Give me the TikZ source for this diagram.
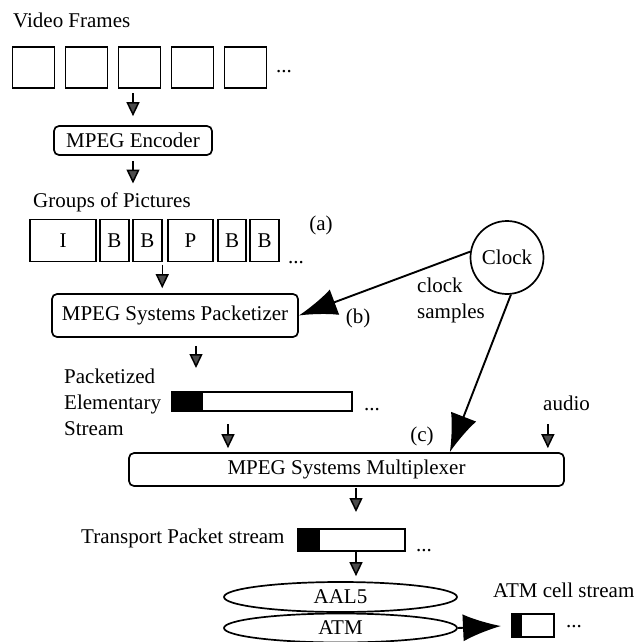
\documentclass[tikz,border=0pt]{standalone}
\usepackage{fontspec}
\setmainfont{Liberation Serif}
\usetikzlibrary{arrows.meta}
\usetikzlibrary{positioning}
\usetikzlibrary{shapes.geometric}

\begin{document}
\begin{tikzpicture}[x=1pt,y=-1pt,font=\fontsize{21}{26}\selectfont]
  \tikzset{framebox/.style={draw,line width=1.7pt,minimum width=#1,inner sep=0pt,outer sep=0pt},
           procbox/.style={draw,line width=1.7pt,rounded corners=5pt,minimum width=#1,inner sep=0pt},
           streambar/.style={draw,line width=1.7pt,minimum width=#1,inner sep=0pt,outer sep=0pt},
           layerbox/.style={draw,ellipse,line width=1.7pt,minimum width=233pt,minimum height=30pt,inner sep=0pt},
           plain/.style={inner sep=0pt},
           feeds/.style={-{Triangle[length=14pt,width=13pt,fill=gray!60!black]},line width=1.5pt},
           clocked/.style={-{Latex[length=38pt,width=27pt]},line width=1.9pt}}
  \useasboundingbox (0,0) rectangle (639,642);

  \node[plain,anchor=base west] (vidlbl) at (13,28) {Video Frames};
  \foreach \i in {1,...,5}
    \node[framebox=42pt,minimum height=41pt] (frame\i) at ({33.5+53*(\i-1)},67.5) {};
  \node[plain,anchor=base west] (framedots) at (276,72) {...};

  \node[procbox=158pt,minimum height=29pt] (encoder) at (133,140.5) {MPEG Encoder};

  \node[plain,anchor=base west] (goplbl) at (33,207) {Groups of Pictures};
  \node[framebox=66.5pt,minimum height=42pt] (gopI) at (63,240.5) {I};
  \node[framebox=29.5pt,minimum height=42pt,right=3.5pt of gopI] (gopB1) {B};
  \node[framebox=29.5pt,minimum height=42pt,right=3.5pt of gopB1] (gopB2) {B};
  \node[framebox=45.5pt,minimum height=42pt,right=5.5pt of gopB2] (gopP) {P};
  \node[framebox=28.5pt,minimum height=42pt,right=4.5pt of gopP] (gopB3) {B};
  \node[framebox=29.5pt,minimum height=42pt,right=3.5pt of gopB3] (gopB4) {B};
  \node[plain,anchor=base west] (gopdots) at (288,263) {...};
  \node[plain] (gopnote) at (321,225) {(a)};

  \node[procbox=246pt,minimum height=43pt] (packetizer) at (175,315.5) {MPEG Systems Packetizer};
  \node[plain] (packnote) at (358,318) {(b)};
  \node[draw,circle,line width=1.7pt,minimum size=73pt,inner sep=0pt] (clock) at (507,257.5) {Clock};
  \node[plain,anchor=west,align=left] (samplelbl) at (417,300) {clock\\samples};

  \node[plain,anchor=west,align=left] (peslbl) at (64,402) {Packetized\\Elementary\\Stream};
  \node[streambar=180pt,minimum height=19pt] (pes) at (262,401.5) {};
  \fill (pes.north west) rectangle ([xshift=31pt]pes.south west);
  \node[plain,anchor=base west] (pesdots) at (364,410) {...};
  \node[plain,anchor=base west] (audiolbl) at (543,410) {audio};
  \node[plain] (muxnote) at (422,436) {(c)};

  \node[procbox=435pt,minimum height=33pt] (mux) at (346.5,469.5) {MPEG Systems Multiplexer};

  \node[plain,anchor=base west] (tplbl) at (81,543) {Transport Packet stream};
  \node[streambar=107pt,minimum height=22pt] (tp) at (351.5,540) {};
  \fill (tp.north west) rectangle ([xshift=22pt]tp.south west);
  \node[plain,anchor=base west] (tpdots) at (416,551) {...};

  \node[layerbox] (aal) at (340.5,597) {AAL5};
  \node[layerbox,minimum height=29pt] (atm) at (340.5,628) {ATM};
  \node[plain,anchor=base west] (celllbl) at (493,597) {ATM cell stream};
  \node[streambar=42pt,minimum height=23pt] (cell) at (533,625.5) {};
  \fill (cell.north west) rectangle ([xshift=10pt]cell.south west);
  \node[plain,anchor=base west] (celldots) at (566,627) {...};

  \draw[feeds,shorten <=5pt,shorten >=9pt] (encoder.north |- frame3.south) -- (encoder.north);
  \draw[feeds,shorten <=5pt,shorten >=36pt] (encoder.south) -- (encoder.south |- gopI.north);
  \draw[feeds,shorten <=3pt,shorten >=5pt] (gopB2.south east) -- (gopB2.south east |- packetizer.north);
  \draw[feeds,shorten <=8pt,shorten >=24pt] ([xshift=21pt]packetizer.south) -- ([xshift=21pt]packetizer.south |- pes.north);
  \draw[feeds,shorten <=13pt,shorten >=4pt] ([xshift=56pt]pes.south west) -- ([xshift=56pt]pes.south west |- mux.north);
  \draw[feeds,shorten <=14pt,shorten >=4pt] ([xshift=-17pt]mux.north east |- audiolbl.south) -- ([xshift=-17pt]mux.north east);
  \draw[feeds,shorten <=1pt,shorten >=17pt] ([xshift=9.5pt]mux.south) -- ([xshift=4.5pt]tp.north);
  \draw[feeds,shorten <=1pt,shorten >=5pt] ([xshift=4.5pt]tp.south) -- ([xshift=15.5pt]aal.north);
  \draw[clocked] (clock.171) -- (packetizer.east);
  \draw[clocked] (clock.-84) -- ([xshift=-115pt]mux.north east);
  \draw[clocked,shorten >=11pt] (atm.east) -- (cell.west);
\end{tikzpicture}
\end{document}
